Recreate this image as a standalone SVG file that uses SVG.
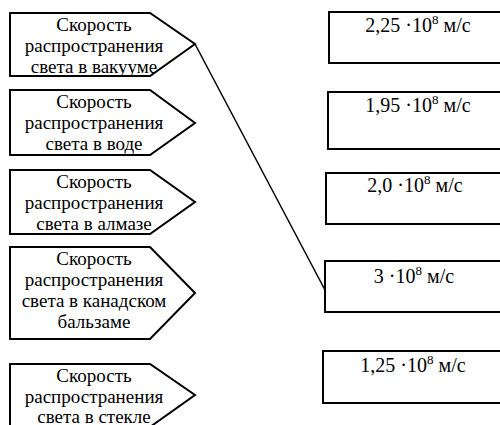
<svg xmlns="http://www.w3.org/2000/svg" width="500" height="425" viewBox="0 0 500 425">
<style>
.shape{fill:#fff;stroke:#000;stroke-width:2}
.t{font-family:'Liberation Serif','DejaVu Serif',serif;font-size:19px;fill:#000;text-anchor:middle}
.v{font-family:'Liberation Serif','DejaVu Serif',serif;font-size:20px;fill:#000;text-anchor:middle}
.sup{font-size:13px}
.conn{stroke:#000;stroke-width:1.5;fill:none}
</style>
<rect width="500" height="425" fill="#fff"/>
<g id="src-vacuum">
<polygon class="shape" points="10,13 150,13 195,44 150,76 10,76"/>
<text class="t" x="94" y="31">Скорость</text>
<text class="t" x="94" y="52">распространения</text>
<text class="t" x="94" y="73">света в вакууме</text>
</g>
<g id="src-water">
<polygon class="shape" points="10,90 150,90 195,123 150,155 10,155"/>
<text class="t" x="94" y="108">Скорость</text>
<text class="t" x="94" y="129">распространения</text>
<text class="t" x="94" y="150">света в воде</text>
</g>
<g id="src-diamond">
<polygon class="shape" points="10,170 150,170 195,202 150,234 10,234"/>
<text class="t" x="94" y="188">Скорость</text>
<text class="t" x="94" y="209">распространения</text>
<text class="t" x="94" y="230">света в алмазе</text>
</g>
<g id="src-balsam">
<polygon class="shape" points="10,247 150,247 195,293 150,339 10,339"/>
<text class="t" x="94" y="265">Скорость</text>
<text class="t" x="94" y="286">распространения</text>
<text class="t" x="94" y="307">света в канадском</text>
<text class="t" x="94" y="328">бальзаме</text>
</g>
<g id="src-glass">
<polygon class="shape" points="10,364 150,364 195,395 150,427 10,427"/>
<text class="t" x="94" y="382">Скорость</text>
<text class="t" x="94" y="403">распространения</text>
<text class="t" x="94" y="423">света в стекле</text>
</g>
<g id="val-225">
<rect class="shape" x="329" y="12" width="185" height="51"/>
<text class="v" x="418" y="32">2,25 ·10<tspan class="sup" dy="-8">8</tspan><tspan dy="8"> м/с</tspan></text>
</g>
<g id="val-195">
<rect class="shape" x="328" y="92" width="185" height="57"/>
<text class="v" x="418" y="112">1,95 ·10<tspan class="sup" dy="-8">8</tspan><tspan dy="8"> м/с</tspan></text>
</g>
<g id="val-20">
<rect class="shape" x="326" y="173" width="185" height="51"/>
<text class="v" x="415" y="192">2,0 ·10<tspan class="sup" dy="-8">8</tspan><tspan dy="8"> м/с</tspan></text>
</g>
<g id="val-3">
<rect class="shape" x="325" y="261" width="185" height="51"/>
<text class="v" x="414" y="283">3 ·10<tspan class="sup" dy="-8">8</tspan><tspan dy="8"> м/с</tspan></text>
</g>
<g id="val-125">
<rect class="shape" x="323" y="351" width="185" height="52"/>
<text class="v" x="413" y="372">1,25 ·10<tspan class="sup" dy="-8">8</tspan><tspan dy="8"> м/с</tspan></text>
</g>
<g id="connectors">
<line class="conn" x1="195" y1="44" x2="325" y2="290"/>
</g>
</svg>
